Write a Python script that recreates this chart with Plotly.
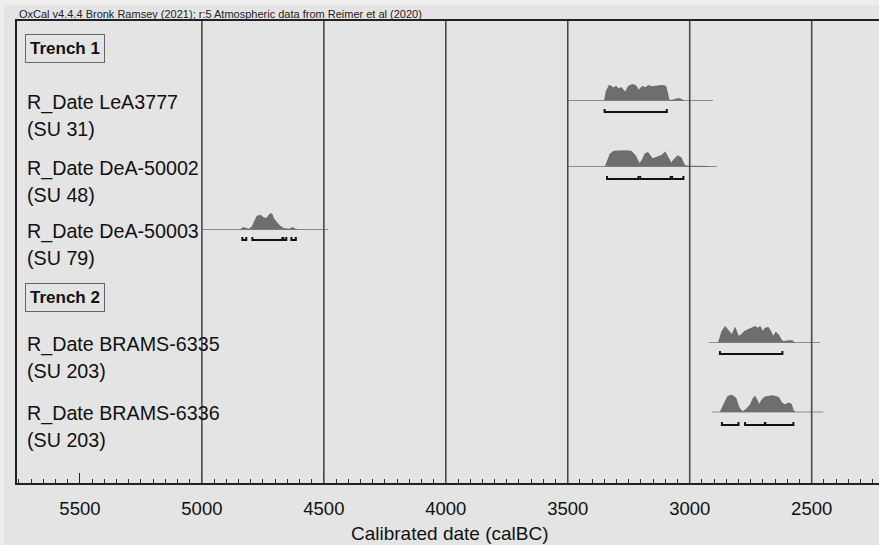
import plotly.graph_objects as go

# ---------------- data ----------------
header = "OxCal v4.4.4 Bronk Ramsey (2021); r:5 Atmospheric data from Reimer et al (2020)"
axis_title = "Calibrated date (calBC)"
group_labels = ["Trench 1", "Trench 2"]
date_labels = ["R_Date LeA3777", "R_Date DeA-50002", "R_Date DeA-50003",
               "R_Date BRAMS-6335", "R_Date BRAMS-6336"]
context_labels = ["(SU 31)", "(SU 48)", "(SU 79)", "(SU 203)", "(SU 203)"]
grid_values = [5000, 4500, 4000, 3500, 3000, 2500]
x_range = [5758, 2224]

lea3777_years = [3349, 3342, 3330, 3312, 3302, 3292, 3281, 3264, 3251, 3235, 3221, 3210, 3194,
                 3183, 3169, 3155, 3139, 3114, 3098, 3090, 3084, 3071, 3053, 3039, 3026]
lea3777_prob = [0, 9.3, 15.3, 12.7, 14.3, 11.7, 13, 8.3, 14.3, 16, 15, 10.3, 14.3,
                12.7, 15, 13.7, 14.3, 15, 14.3, 4.3, 0, 0.3, 1.7, 1.7, 0]
lea3777_span = [3500, 2904]
lea3777_ranges = [[3349, 3094]]

dea50002_years = [3346, 3326, 3312, 3292, 3264, 3240, 3223, 3206, 3196, 3183, 3171, 3162, 3153,
                  3135, 3117, 3100, 3090, 3076, 3062, 3049, 3035, 3021, 3012, 2950, 2924]
dea50002_prob = [0, 12.7, 15.3, 15.7, 15.7, 15.3, 11, 2.7, 6, 12.7, 14, 11, 7.7,
                 9.3, 11, 14.3, 9.3, 3.3, 7.7, 10.7, 8.7, 1, 0.4, 0.3, 0]
dea50002_span = [3500, 2889]
dea50002_ranges = [[3339, 3210], [3203, 3078], [3072, 3026]]

dea50003_years = [4840, 4835, 4826, 4815, 4808, 4794, 4785, 4774, 4760, 4747, 4736, 4726,
                  4719, 4712, 4706, 4695, 4681, 4665, 4644, 4626, 4617, 4610]
dea50003_prob = [0, 1.5, 1.7, 1.2, 0.3, 2.7, 7.7, 13.3, 14.3, 11.7, 11, 14.3,
                 16, 15, 11, 7.7, 3.7, 1, 0.3, 2, 0.3, 0]
dea50003_span = [4998, 4482]
dea50003_ranges = [[4834, 4818], [4793, 4670], [4666, 4654], [4633, 4615]]

brams6335_years = [2882, 2868, 2855, 2838, 2827, 2814, 2800, 2789, 2776, 2762, 2745, 2732, 2721,
                   2711, 2702, 2691, 2677, 2666, 2657, 2647, 2636, 2625, 2616, 2595, 2579, 2571]
brams6335_prob = [0, 11, 16, 11, 7.7, 15, 6, 7.7, 11, 12.7, 15, 16, 14.3,
                  16, 11, 14.3, 15, 9.3, 6, 10.3, 7.7, 2.7, 1, 1.7, 1.7, 0]
brams6335_span = [2920, 2465]
brams6335_ranges = [[2876, 2620]]

brams6336_years = [2875, 2862, 2844, 2827, 2811, 2800, 2789, 2780, 2766, 2752, 2739, 2732, 2722,
                   2715, 2704, 2694, 2677, 2663, 2650, 2636, 2622, 2609, 2595, 2584, 2575, 2568]
brams6336_prob = [0, 7.3, 15.7, 16.7, 14, 5.7, 1.3, 0.7, 3.3, 7.3, 14, 15.7, 10.7,
                  7.3, 12.3, 14.7, 15.7, 16.3, 15.7, 14.7, 9, 7.3, 9, 8, 1.3, 0]
brams6336_span = [2909, 2452]
brams6336_ranges = [[2868, 2800], [2773, 2692], [2690, 2575]]

dists = [
    (lea3777_years, lea3777_prob, lea3777_span, lea3777_ranges),
    (dea50002_years, dea50002_prob, dea50002_span, dea50002_ranges),
    (dea50003_years, dea50003_prob, dea50003_span, dea50003_ranges),
    (brams6335_years, brams6335_prob, brams6335_span, brams6335_ranges),
    (brams6336_years, brams6336_prob, brams6336_span, brams6336_ranges),
]

# ---------------- layout (pixels) ----------------
W, H = 879, 545
ML, MR, MT, MB = 17, 0, 21, 62
PW, PH = W - ML - MR, H - MT - MB
row_base_px = [100.5, 166.5, 229.5, 342.5, 412]
bracket_dy = [11.5, 12.5, 10.5, 11.5, 13]
group_y_px = [48.5, 297.5]
FONT = "Liberation Sans, Arial, Helvetica, sans-serif"


def yd(py):
    return py - MT


def px(xp):
    return (xp - ML) / PW


def py_(yp):
    return 1 - (yp - MT) / PH


fig = go.Figure()

for i, (yrs, prob, span, ranges) in enumerate(dists):
    base = yd(row_base_px[i])
    fig.add_trace(go.Scatter(x=span, y=[base, base], mode="lines",
                             line=dict(color="#8c8c8c", width=1),
                             hoverinfo="skip", showlegend=False))
    fx = [yrs[0]] + list(yrs) + [yrs[-1]]
    fy = [base] + [base - p for p in prob] + [base]
    fig.add_trace(go.Scatter(x=fx, y=fy, mode="lines", fill="toself",
                             fillcolor="#6e6e6e", line=dict(color="#5e5e5e", width=0.8),
                             hoverinfo="skip", showlegend=False))
    by = base + bracket_dy[i]
    bx, byy = [], []
    for a, b in ranges:
        bx += [a, a, b, b, None]
        byy += [by - 3, by, by, by - 3, None]
    fig.add_trace(go.Scatter(x=bx, y=byy, mode="lines",
                             line=dict(color="#111111", width=2),
                             hoverinfo="skip", showlegend=False))

annotations = []
for i in range(len(date_labels)):
    b = row_base_px[i]
    annotations.append(dict(text=date_labels[i], xref="paper", yref="y",
                            x=px(25), y=yd(b + 1.5), xanchor="left", yanchor="middle",
                            showarrow=False, font=dict(family=FONT, size=19.7, color="#111")))
    annotations.append(dict(text=context_labels[i], xref="paper", yref="y",
                            x=px(25), y=yd(b + 28), xanchor="left", yanchor="middle",
                            showarrow=False, font=dict(family=FONT, size=19.7, color="#111")))
for g, gy in zip(group_labels, group_y_px):
    annotations.append(dict(text="<b>%s</b>" % g, xref="paper", yref="y",
                            x=px(25), y=yd(gy), xanchor="left", yanchor="middle",
                            showarrow=False, bordercolor="#666", borderwidth=1, borderpad=4,
                            bgcolor="#e4e4e4",
                            font=dict(family=FONT, size=17, color="#111")))
annotations.append(dict(text=header, xref="paper", yref="paper", x=px(17), y=py_(14),
                        xanchor="left", yanchor="middle", showarrow=False,
                        font=dict(family=FONT, size=11, color="#222")))
annotations.append(dict(text=axis_title, xref="paper", yref="paper", x=px(450), y=py_(533),
                        xanchor="center", yanchor="middle", showarrow=False,
                        font=dict(family=FONT, size=19, color="#111")))

shapes = [dict(type="rect", xref="paper", yref="paper", x0=px(4), x1=px(W + 5),
               y0=py_(H + 5), y1=py_(5), fillcolor="#e4e4e4", line=dict(width=0),
               layer="below")]
for g in grid_values:
    shapes.append(dict(type="line", xref="x", yref="paper", x0=g, x1=g, y0=0, y1=1,
                       line=dict(color="#4a4a4a", width=1.6), layer="above"))

fig.update_layout(
    width=W, height=H,
    margin=dict(l=ML, r=MR, t=MT, b=MB),
    paper_bgcolor="#eeeeee", plot_bgcolor="#e4e4e4",
    annotations=annotations, shapes=shapes,
    font=dict(family=FONT, color="#111"),
    xaxis=dict(range=x_range, tick0=0, dtick=500, ticks="inside", ticklen=10,
               tickwidth=1, tickcolor="#222", showgrid=False, zeroline=False,
               showline=True, linecolor="#222", linewidth=2, mirror=True,
               tickfont=dict(family=FONT, size=18.5, color="#111"),
               ticklabelstandoff=8,
               minor=dict(dtick=50, ticks="inside", ticklen=4, tickcolor="#333",
                          tickwidth=1, showgrid=False)),
    yaxis=dict(range=[PH, 0], showticklabels=False, ticks="", showgrid=False,
               zeroline=False, showline=True, linecolor="#222", linewidth=2),
)

fig.write_html("out.html", config={"displayModeBar": False},
               post_script="document.body.style.margin='0';document.body.style.overflow='hidden';")
